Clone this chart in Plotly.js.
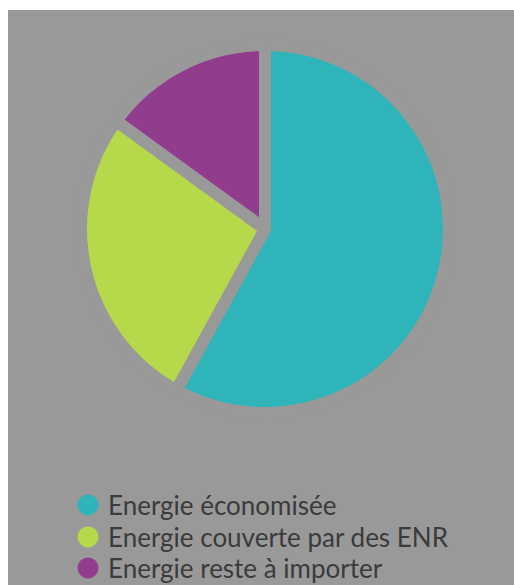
<!DOCTYPE html>
<html>
<head>
<meta charset="utf-8">
<script src="https://cdn.plot.ly/plotly-3.0.1.min.js"></script>
<style>html,body{margin:0;padding:0;background:#ffffff;}#chart{width:514px;height:585px;}</style>
</head>
<body>
<div id="chart"></div>
<script>
var labels = ["Energie économisée", "Energie couverte par des ENR", "Energie reste à importer"];
var values = [58, 27, 15];
var colors = ["#2fb4b9", "#b6d84b", "#923c8e"];
var bg = "#999999";
var legendRowsPx = [505, 537, 568];

var traces = [{
  type: "pie",
  labels: labels,
  values: values,
  sort: false,
  direction: "clockwise",
  rotation: 0,
  textinfo: "none",
  showlegend: false,
  marker: {colors: colors, line: {color: bg, width: 12}},
  domain: {x: [0.1576, 0.8735], y: [0.294, 0.923]}
}];

var layout = {
  width: 514, height: 585,
  margin: {l: 0, r: 0, t: 0, b: 0, autoexpand: false},
  paper_bgcolor: "#ffffff",
  plot_bgcolor: "rgba(0,0,0,0)",
  xaxis: {visible: false}, yaxis: {visible: false},
  shapes: [{type: "rect", xref: "paper", yref: "paper", x0: 8/514, x1: 1, y0: 0, y1: 1 - 10/585,
            fillcolor: bg, line: {width: 0}, layer: "below"}],
  showlegend: true
};

labels.forEach(function (lab, i) {
  var key = i === 0 ? "legend" : "legend" + (i + 1);
  traces.push({
    type: "scatter", mode: "markers", x: [null], y: [null], name: lab,
    legend: key,
    marker: {color: colors[i], size: 16, symbol: "circle", line: {color: colors[i], width: 5}},
    showlegend: true, hoverinfo: "skip"
  });
  layout[key] = {
    x: 68/514, xanchor: "left", y: 1 - legendRowsPx[i]/585, yanchor: "middle",
    bgcolor: "rgba(0,0,0,0)", borderwidth: 0,
    font: {family: "Lato, sans-serif", size: 26, color: "#3b3b3b"},
    itemwidth: 30
  };
});

Plotly.newPlot("chart", traces, layout, {staticPlot: true, displayModeBar: false});
</script>
</body>
</html>
